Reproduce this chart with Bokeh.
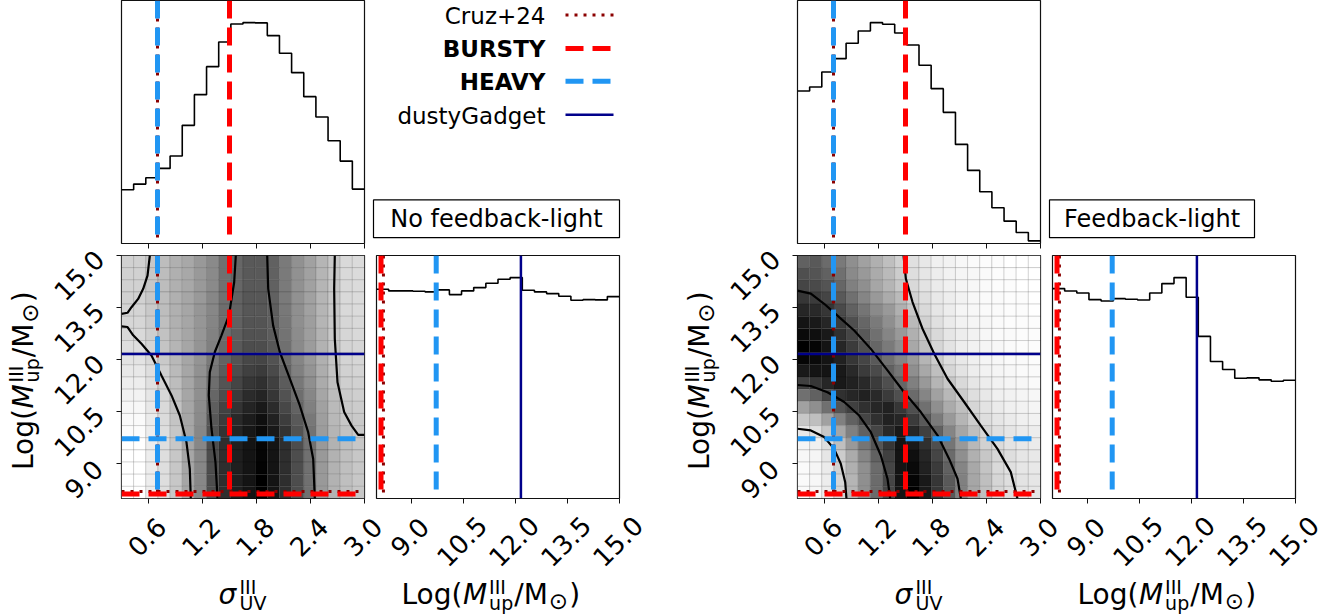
import math
import numpy as np
from bokeh.plotting import figure
from bokeh.layouts import column, row
from bokeh.models import Range1d, Span, FixedTicker
from bokeh.embed import file_html
from bokeh.resources import INLINE
from bokeh.core.properties import value

FONT = "DejaVu Sans"

# ---------------- data ----------------
sigma_range = [0.3, 3.0]
logm_range = [8.0, 15.0]
n_bins = 20

sigma_ticks = [0.6, 1.2, 1.8, 2.4, 3.0]
sigma_tick_labels = ["0.6", "1.2", "1.8", "2.4", "3.0"]
logm_ticks = [9.0, 10.5, 12.0, 13.5, 15.0]
logm_tick_labels = ["9.0", "10.5", "12.0", "13.5", "15.0"]

panel_titles = ["No feedback-light", "Feedback-light"]

# 1D marginal histograms (relative counts, 20 bins)
hist_sigma_nofb = [161, 178, 197, 225, 262, 354, 446, 530, 604, 658, 662, 661, 623, 570, 512, 440, 379, 308, 247, 163]
hist_sigma_fb = [457, 469, 514, 554, 600, 637, 662, 657, 631, 595, 534, 464, 393, 297, 219, 155, 107, 67, 33, 8]
hist_logm_nofb = [628, 623, 623, 622, 620, 626, 612, 623, 633, 646, 658, 663, 625, 620, 615, 607, 595, 597, 596, 606]
hist_logm_fb = [628, 621, 615, 595, 591, 598, 596, 594, 615, 643, 661, 602, 485, 410, 386, 360, 361, 355, 351, 354]

# 2D density (darkness 0..100), rows from top (high logM) to bottom, columns sigma low->high
density_nofb = [
    [18, 18, 22, 26, 31, 34, 40, 46, 56, 60, 65, 65, 62, 52, 43, 37, 29, 22, 15, 14],
    [18, 18, 22, 26, 31, 34, 40, 46, 56, 60, 65, 65, 62, 52, 43, 37, 29, 22, 15, 14],
    [18, 18, 22, 26, 31, 34, 40, 46, 56, 60, 65, 65, 62, 52, 43, 37, 29, 22, 15, 14],
    [18, 18, 22, 26, 31, 35, 40, 47, 56, 61, 66, 66, 62, 52, 43, 37, 29, 22, 15, 14],
    [17, 17, 21, 26, 31, 35, 41, 47, 57, 61, 66, 66, 63, 53, 44, 37, 29, 22, 15, 14],
    [16, 16, 20, 25, 31, 35, 41, 48, 57, 62, 67, 67, 63, 54, 44, 38, 29, 22, 16, 15],
    [15, 15, 19, 24, 30, 35, 41, 49, 58, 63, 68, 68, 64, 55, 45, 38, 30, 22, 16, 15],
    [13, 13, 17, 23, 29, 35, 42, 50, 59, 65, 70, 70, 66, 56, 46, 39, 30, 23, 17, 16],
    [11, 11, 15, 21, 28, 35, 42, 52, 61, 67, 72, 73, 68, 58, 48, 40, 31, 23, 17, 16],
    [9, 9, 13, 19, 27, 35, 43, 54, 64, 70, 75, 77, 71, 61, 50, 42, 32, 24, 18, 17],
    [7, 7, 12, 18, 26, 35, 44, 57, 67, 73, 79, 81, 75, 64, 53, 44, 33, 25, 19, 18],
    [5, 5, 10, 16, 25, 35, 44, 60, 70, 77, 83, 86, 79, 68, 57, 47, 35, 26, 20, 19],
    [3, 3, 9, 15, 24, 35, 45, 63, 74, 80, 86, 90, 83, 72, 61, 50, 37, 27, 21, 20],
    [2, 2, 8, 14, 23, 35, 46, 66, 77, 84, 89, 94, 87, 76, 65, 53, 38, 28, 22, 21],
    [1, 1, 7, 13, 22, 35, 47, 68, 80, 86, 91, 96, 90, 80, 68, 55, 39, 29, 24, 21],
    [0, 0, 7, 13, 22, 35, 47, 70, 82, 88, 92, 98, 92, 82, 70, 56, 40, 30, 25, 22],
    [0, 0, 7, 13, 22, 35, 47, 70, 82, 88, 92, 98, 92, 82, 70, 56, 40, 30, 25, 22],
    [0, 0, 7, 13, 22, 35, 47, 70, 82, 88, 92, 99, 92, 82, 70, 56, 40, 30, 25, 22],
    [0, 0, 7, 13, 22, 35, 47, 70, 82, 88, 92, 100, 92, 82, 70, 56, 40, 30, 25, 22],
    [0, 0, 7, 13, 22, 35, 47, 70, 82, 88, 92, 100, 92, 82, 70, 56, 40, 30, 25, 22],
]
density_fb = [
    [62, 65, 58, 52, 44, 37, 31, 25, 18, 12, 9, 6, 5, 3, 2, 1, 1, 0, 0, 0],
    [69, 67, 62, 56, 46, 40, 33, 27, 20, 13, 10, 7, 5, 4, 3, 2, 1, 1, 0, 0],
    [73, 71, 67, 60, 50, 44, 35, 29, 22, 15, 11, 8, 6, 4, 3, 2, 1, 1, 0, 0],
    [79, 77, 73, 65, 56, 48, 40, 33, 27, 18, 13, 9, 7, 5, 3, 2, 2, 1, 1, 0],
    [85, 84, 79, 71, 62, 54, 46, 40, 31, 22, 15, 10, 7, 4, 3, 2, 2, 1, 1, 0],
    [92, 90, 85, 77, 69, 60, 52, 44, 35, 27, 18, 12, 8, 5, 4, 3, 2, 1, 1, 1],
    [96, 94, 90, 81, 73, 65, 56, 48, 40, 31, 22, 15, 10, 7, 5, 3, 2, 2, 1, 1],
    [100, 98, 92, 85, 77, 69, 60, 52, 44, 34, 25, 16, 11, 7, 5, 4, 3, 2, 1, 1],
    [98, 96, 92, 87, 79, 73, 65, 56, 48, 40, 29, 20, 13, 9, 6, 4, 3, 2, 2, 1],
    [90, 92, 92, 90, 84, 77, 71, 62, 54, 44, 34, 25, 16, 11, 7, 5, 4, 3, 2, 2],
    [75, 79, 85, 90, 87, 84, 77, 69, 60, 50, 40, 29, 22, 15, 10, 7, 5, 4, 3, 2],
    [56, 62, 73, 81, 85, 87, 84, 77, 69, 58, 48, 37, 28, 20, 13, 9, 6, 5, 4, 3],
    [37, 44, 56, 67, 75, 81, 85, 87, 79, 69, 56, 44, 33, 25, 16, 11, 8, 6, 5, 4],
    [22, 25, 37, 50, 62, 73, 81, 87, 85, 77, 65, 52, 40, 29, 20, 13, 10, 8, 6, 5],
    [9, 12, 22, 35, 50, 62, 73, 84, 90, 85, 75, 62, 48, 35, 25, 16, 12, 10, 8, 7],
    [4, 6, 13, 25, 40, 54, 67, 79, 92, 90, 81, 69, 54, 40, 28, 18, 14, 11, 9, 8],
    [3, 4, 10, 20, 33, 48, 62, 75, 92, 94, 85, 73, 58, 44, 31, 22, 16, 13, 10, 9],
    [2, 4, 8, 18, 31, 44, 58, 73, 92, 96, 87, 77, 62, 48, 34, 23, 15, 12, 10, 9],
    [2, 3, 7, 16, 29, 44, 58, 73, 92, 98, 90, 79, 65, 50, 35, 25, 16, 13, 11, 10],
    [2, 3, 7, 16, 29, 44, 58, 73, 92, 100, 90, 79, 65, 50, 35, 25, 16, 13, 11, 10],
]

# contour lines (sigma, logM)
contours_nofb = [
    ([0.300, 0.367, 0.411, 0.485, 0.541, 0.589, 0.615],
     [13.32, 13.35, 13.51, 13.75, 14.04, 14.42, 15.00]),
    ([0.300, 0.367, 0.430, 0.522, 0.633, 0.744, 0.856, 0.948, 1.022, 1.059, 1.070],
     [12.96, 12.94, 12.70, 12.46, 12.12, 11.54, 10.97, 10.39, 9.62, 8.85, 8.00]),
    ([1.570, 1.552, 1.493, 1.411, 1.337, 1.281, 1.270, 1.300, 1.344, 1.367],
     [15.00, 14.23, 13.27, 12.70, 12.22, 11.64, 10.97, 10.01, 9.05, 8.00]),
    ([1.919, 1.930, 1.985, 2.059, 2.170, 2.281, 2.374, 2.430, 2.448],
     [15.00, 14.04, 12.98, 12.22, 11.45, 10.68, 9.91, 9.14, 8.00]),
    ([2.670, 2.663, 2.670, 2.700, 2.774, 2.856, 2.930, 3.000],
     [15.00, 14.04, 12.60, 11.35, 10.49, 10.10, 9.83, 9.83]),
]
contours_fb = [
    ([1.478, 1.504, 1.578, 1.689, 1.819, 1.967, 2.152, 2.337, 2.522, 2.670, 2.744],
     [15.00, 14.33, 13.66, 12.89, 12.17, 11.45, 10.78, 10.10, 9.43, 8.76, 8.00]),
    ([0.300, 0.448, 0.596, 0.744, 0.930, 1.115, 1.300, 1.485, 1.670, 1.856, 1.985, 2.078, 2.115],
     [13.99, 13.90, 13.61, 13.27, 12.84, 12.31, 11.69, 11.06, 10.49, 9.82, 9.14, 8.57, 8.00]),
    ([0.300, 0.448, 0.633, 0.819, 0.985, 1.115, 1.226, 1.300, 1.330],
     [11.27, 11.24, 11.06, 10.78, 10.39, 9.91, 9.24, 8.57, 8.00]),
    ([0.300, 0.448, 0.596, 0.707, 0.781, 0.830, 0.844],
     [10.01, 9.96, 9.77, 9.43, 9.00, 8.47, 8.00]),
]

# reference models
ref_names = ["Cruz+24", "BURSTY", "HEAVY", "dustyGadget"]
ref_bold = [False, True, True, False]
ref_sigma = [0.7, 1.5, 0.7, None]
ref_logm = [8.2, 8.13, 9.72, 12.16]
ref_colors = ["#8b0000", "#ff0000", "#2196f3", "#00008b"]
ref_dash = ["3 6", "18 9", "18 9", "solid"]
ref_width = [3, 5, 5, 2.5]

# ---------------- layout constants (page pixels) ----------------
FR = 243
ROW1_H = 251      # top row: marginal sigma histograms, legend, titles
ROW2_TOP = 251
ROW2_H = 253      # panels with their tick marks
ROW3_TOP = 504
ROW3_H = 111      # tick labels and axis labels below
TOP2 = 255        # top of the lower panels' frames
DX = 676          # offset of the second corner plot
PAGE_W = 1338
TICK_FS = 26
LAB_FS = 28
SUB_FS = 19
BASE = 604        # baseline of the x-axis labels
ASC = 0.364       # cap-centre above baseline, in em


def gray(d):
    g = int(round(255 * (1 - d / 100.0)))
    return "#%02x%02x%02x" % (g, g, g)


def base_fig(width, height, xr, yr, bl, br, bt, bb, xaxis=True, yaxis=False):
    p = figure(width=width, height=height, x_range=Range1d(*xr), y_range=Range1d(*yr),
               min_border_left=bl, min_border_right=br, min_border_top=bt, min_border_bottom=bb,
               toolbar_location=None, tools="", output_backend="svg",
               x_axis_location="below" if xaxis else None,
               y_axis_location="left" if yaxis else None)
    p.grid.visible = False
    p.outline_line_color = "#111111"
    p.outline_line_width = 1.2
    p.background_fill_color = "white"
    p.border_fill_color = "white"
    return p


def style_axis(ax, ticks):
    ax.ticker = FixedTicker(ticks=ticks)
    ax.major_label_overrides = {t: "" for t in ticks}
    ax.major_label_text_font_size = "0px"
    ax.major_label_standoff = 0
    ax.minor_tick_line_color = None
    ax.major_tick_in = 0
    ax.major_tick_out = 5
    ax.major_tick_line_color = "#111111"
    ax.major_tick_line_width = 1
    ax.axis_line_color = None


def blank(x0, x1, y0, y1):
    """Axis-free figure whose data coordinates are page pixels (y stored as -py)."""
    p = figure(width=x1 - x0, height=y1 - y0, x_range=Range1d(x0, x1), y_range=Range1d(-y1, -y0),
               min_border=0, toolbar_location=None, tools="", output_backend="svg",
               x_axis_location=None, y_axis_location=None)
    p.outline_line_color = None
    p.grid.visible = False
    p.background_fill_color = "white"
    p.border_fill_color = "white"
    return p


def put(p, px, py, text, size, style="normal", align="left", angle=0.0):
    """place text with its vertical middle at (px, py) in page pixels."""
    p.text(x=[px], y=[-py], text=[text], text_font=value(FONT), text_font_size="%gpx" % size,
           text_font_style=style, text_align=align, text_baseline="middle", angle=angle,
           text_color="black")


def frame_px(v, left, rng):
    return left + (v - rng[0]) / (rng[1] - rng[0]) * FR


def frame_py(v, top, rng):
    return top + (rng[1] - v) / (rng[1] - rng[0]) * FR


def add_spans(p, which):
    for i in range(len(ref_names)):
        kw = dict(line_color=ref_colors[i], line_width=ref_width[i], line_dash=ref_dash[i])
        if which in ("sigma", "both") and ref_sigma[i] is not None:
            p.add_layout(Span(location=ref_sigma[i], dimension="height", **kw))
        if which in ("logm_h", "both") and ref_logm[i] is not None:
            p.add_layout(Span(location=ref_logm[i], dimension="width", **kw))
        if which == "logm_v" and ref_logm[i] is not None:
            p.add_layout(Span(location=ref_logm[i], dimension="height", **kw))


def step_hist(p, lo, hi, heights):
    edges = list(np.linspace(lo, hi, n_bins + 1))
    p.step(x=edges, y=list(heights) + [heights[-1]], mode="after", line_color="black", line_width=1.6)


def top_hist(heights):
    p = base_fig(7 + FR + 2, ROW1_H, sigma_range, (0, max(heights) * 1.1), 7, 2, 0, ROW1_H - FR)
    style_axis(p.xaxis[0], sigma_ticks)
    step_hist(p, sigma_range[0], sigma_range[1], heights)
    add_spans(p, "sigma")
    return p


def panel_2d(dens, contours):
    p = base_fig(7 + FR + 2, ROW2_H, sigma_range, logm_range, 7, 2, TOP2 - ROW2_TOP,
                 ROW2_H - (TOP2 - ROW2_TOP) - FR, xaxis=True, yaxis=True)
    style_axis(p.xaxis[0], sigma_ticks)
    style_axis(p.yaxis[0], logm_ticks)
    sx = np.linspace(sigma_range[0], sigma_range[1], n_bins + 1)
    sy = np.linspace(logm_range[0], logm_range[1], n_bins + 1)
    xs, ys, cols = [], [], []
    for r, rowvals in enumerate(dens):
        yc = 0.5 * (sy[n_bins - 1 - r] + sy[n_bins - r])
        for c, d in enumerate(rowvals):
            xs.append(0.5 * (sx[c] + sx[c + 1]))
            ys.append(yc)
            cols.append(gray(d))
    p.rect(x=xs, y=ys, width=sx[1] - sx[0], height=sy[1] - sy[0], fill_color=cols,
           line_color="black", line_alpha=0.13, line_width=1)
    for cx, cy in contours:
        p.line(cx, cy, line_color="black", line_width=2.2)
    add_spans(p, "both")
    return p


def right_hist(heights, last):
    br = 43 if last else 2
    p = base_fig(10 + FR + br, ROW2_H, logm_range, (0, max(heights) * 1.1), 10, br,
                 TOP2 - ROW2_TOP, ROW2_H - (TOP2 - ROW2_TOP) - FR)
    style_axis(p.xaxis[0], logm_ticks)
    step_hist(p, logm_range[0], logm_range[1], heights)
    add_spans(p, "logm_v")
    return p


# pieces of "Log(M_up^III / M_sun)": text, size, style, centre offset below baseline, advance
logm_label_parts = [("Log(", LAB_FS, "normal", -ASC * LAB_FS, 61.4),
                    ("M", LAB_FS, "italic", -ASC * LAB_FS, 26.2),
                    ("III", SUB_FS, "normal", -11 - ASC * SUB_FS, 0),
                    ("up", SUB_FS, "normal", 5.5 - ASC * SUB_FS, 25.1),
                    ("/M", LAB_FS, "normal", -ASC * LAB_FS, 34.6),
                    ("⊙", 23, "normal", -4, 20.5),
                    (")", LAB_FS, "normal", -ASC * LAB_FS, 10.9)]


def tick_ext(s):
    return 38 if len(s) == 3 else 47


def y_axis_texts(p, ox):
    """tick labels and vertical axis label left of a 2D panel (page coords)."""
    left = 121 + ox
    for t, s in zip(logm_ticks, logm_tick_labels):
        ext = tick_ext(s)
        put(p, left - 19.3 - ext / 2, frame_py(t, TOP2, logm_range) - 4 + ext / 2, s, TICK_FS,
            align="center", angle=math.pi / 4)
    bx = 33.3 + ox
    pos = 376.5 + 93
    for txt, sz, st, off, adv in logm_label_parts:
        put(p, bx + off, pos, txt, sz, style=st, angle=math.pi / 2)
        pos -= adv


def bottom_texts(p, ox):
    left2d = 121 + ox
    lefth = 376 + ox
    for t, s in zip(sigma_ticks, sigma_tick_labels):
        put(p, frame_px(t, left2d, sigma_range) - 2, 517 + tick_ext(s) / 2, s, TICK_FS,
            align="center", angle=math.pi / 4)
    for t, s in zip(logm_ticks, logm_tick_labels):
        put(p, frame_px(t, lefth, logm_range) - 2, 517 + tick_ext(s) / 2, s, TICK_FS,
            align="center", angle=math.pi / 4)
    # sigma_UV^III
    put(p, left2d + 97, BASE - ASC * LAB_FS, "σ", LAB_FS, style="italic")
    put(p, left2d + 118, BASE - 11 - ASC * SUB_FS, "III", SUB_FS)
    put(p, left2d + 118, BASE + 5.5 - ASC * SUB_FS, "UV", SUB_FS)
    # Log(M_up^III/M_sun)
    pos = 401 + ox
    for txt, sz, st, off, adv in logm_label_parts:
        put(p, pos, BASE + off, txt, sz, style=st)
        pos += adv


def title_box(p, x0, x1, text):
    p.quad(left=[x0], right=[x1], top=[-206], bottom=[-245], fill_color="white",
           line_color="black", line_width=1.2)
    put(p, (x0 + x1) / 2, 226, text, 24, align="center")


# ---------------- build ----------------
# left corner plot
yl_l = blank(0, 114, 0, ROW3_TOP)
y_axis_texts(yl_l, 0)
th_l = top_hist(hist_sigma_nofb)
mid = blank(366, 621, 0, ROW1_H)
leg_y = [16, 50.5, 84.5, 119]
for i, name in enumerate(ref_names):
    put(mid, 545, leg_y[i], name, 23, style="bold" if ref_bold[i] else "normal", align="right")
    mid.segment(x0=[565], x1=[613], y0=[-(leg_y[i] - 1)], y1=[-(leg_y[i] - 1)],
                line_color=ref_colors[i], line_width=ref_width[i], line_dash=ref_dash[i])
title_box(mid, 373, 619, panel_titles[0])
d_l = panel_2d(density_nofb, contours_nofb)
h_l = right_hist(hist_logm_nofb, False)

# right corner plot
yl_r = blank(621, 790, 0, ROW3_TOP)
y_axis_texts(yl_r, DX)
th_r = top_hist(hist_sigma_fb)
rest = blank(1042, PAGE_W, 0, ROW1_H)
title_box(rest, 1049, 1254, panel_titles[1])
d_r = panel_2d(density_fb, contours_fb)
h_r = right_hist(hist_logm_fb, True)

bottom = blank(0, PAGE_W, ROW3_TOP, ROW3_TOP + ROW3_H)
bottom_texts(bottom, 0)
bottom_texts(bottom, DX)

block_l = column(row(th_l, mid), row(d_l, h_l))
block_r = column(row(th_r, rest), row(d_r, h_r))
layout = column(row(yl_l, block_l, yl_r, block_r), bottom)
open("out.html", "w").write(file_html(layout, INLINE))
